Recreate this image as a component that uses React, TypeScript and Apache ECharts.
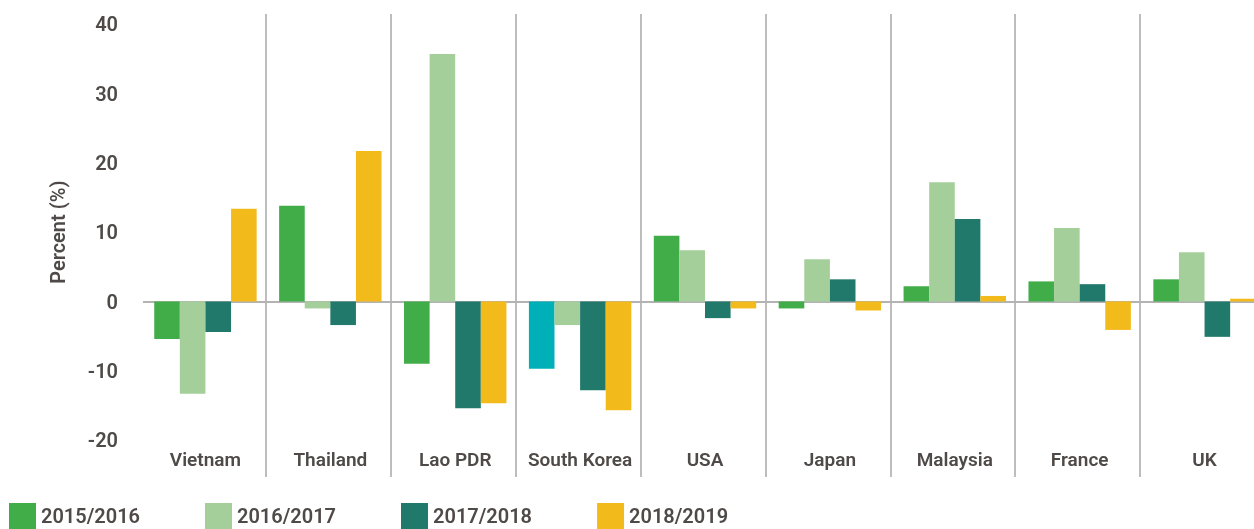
import React, { useEffect, useRef } from "react";
import * as echarts from "echarts";

const categories = ["Vietnam", "Thailand", "Lao PDR", "South Korea", "USA", "Japan", "Malaysia", "France", "UK"];
const seriesNames = ["2015/2016", "2016/2017", "2017/2018", "2018/2019"];
const s2015 = [-5.4, 13.8, -9.0, -9.7, 9.5, -1.0, 2.2, 2.9, 3.2];
const s2016 = [-13.3, -1.0, 35.7, -3.4, 7.4, 6.1, 17.2, 10.6, 7.1];
const s2017 = [-4.4, -3.4, -15.4, -12.8, -2.4, 3.2, 11.9, 2.5, -5.1];
const s2018 = [13.4, 21.7, -14.7, -15.7, -1.0, -1.3, 0.8, -4.1, 0.4];
const colors = ["#41AD49", "#A5CF9A", "#21796B", "#F3BA1C"];
const highlightColor = "#00B0B9";
const highlightIndex = 3;

const TEXT = "#4f4a47";
const FONT = "Roboto";
const WEIGHT = 600;

export default function App() {
  const ref = useRef<HTMLDivElement>(null);
  useEffect(() => {
    if (!ref.current) return;
    const chart = echarts.init(ref.current, null, { renderer: "svg" });
    const all = [s2015, s2016, s2017, s2018];
    const series: any[] = all.map((vals, si) => ({
      name: seriesNames[si],
      type: "bar",
      xAxisIndex: 0,
      yAxisIndex: 0,
      barGap: "0%",
      barCategoryGap: "18%",
      itemStyle: { color: colors[si] },
      data: vals.map((v, i) =>
        si === 0 && i === highlightIndex ? { value: v, itemStyle: { color: highlightColor } } : v
      ),
      markLine:
        si === 0
          ? {
              silent: true,
              symbol: "none",
              label: { show: false },
              lineStyle: { color: "#b3b3b3", width: 2, type: "solid" },
              data: [{ yAxis: 0 }],
              z: 1,
            }
          : undefined,
    }));
    chart.setOption({
      animation: false,
      textStyle: { fontFamily: FONT },
      grid: [
        { left: 143, width: 1124, top: 24.3, height: 440.1 - 24.3, outerBoundsMode: "none", containLabel: false },
        { left: 141, width: 1124, top: 14, height: 477 - 14, outerBoundsMode: "none", containLabel: false },
      ],
      legend: {
        left: 9,
        top: 503,
        padding: 0,
        icon: "rect",
        itemWidth: 27,
        itemHeight: 26,
        itemGap: 65,
        textStyle: { color: TEXT, fontSize: 20, lineHeight: 20, fontWeight: WEIGHT, fontFamily: FONT },
        data: seriesNames,
      },
      xAxis: [
        {
          type: "category",
          gridIndex: 0,
          data: categories,
          axisLine: { show: false },
          axisTick: { show: false },
          splitLine: { show: false },
          axisLabel: { interval: 0, color: TEXT, fontSize: 19, fontWeight: WEIGHT, margin: 10, fontFamily: FONT },
        },
        {
          type: "category",
          gridIndex: 1,
          data: categories,
          axisLine: { show: false },
          axisTick: { show: false },
          axisLabel: { show: false },
          splitLine: { show: true, interval: 0, showMinLine: false, lineStyle: { color: "#bdbdbd", width: 2 } },
        },
      ],
      yAxis: [
        {
          type: "value",
          gridIndex: 0,
          min: -20,
          max: 40,
          interval: 10,
          name: "Percent (%)",
          nameLocation: "middle",
          nameGap: 75,
          nameTextStyle: { color: TEXT, fontSize: 20, fontWeight: WEIGHT, fontFamily: FONT },
          axisLine: { show: false },
          axisTick: { show: false },
          splitLine: { show: false },
          axisLabel: { color: TEXT, fontSize: 20, fontWeight: WEIGHT, margin: 25, fontFamily: FONT },
        },
        {
          type: "value",
          gridIndex: 1,
          show: false,
          min: 0,
          max: 1,
          splitLine: { show: false },
        },
      ],
      series,
    });
    return () => chart.dispose();
  }, []);
  return <div ref={ref} style={{ position: "fixed", left: 0, top: 0, width: 1254, height: 529 }} />;
}
